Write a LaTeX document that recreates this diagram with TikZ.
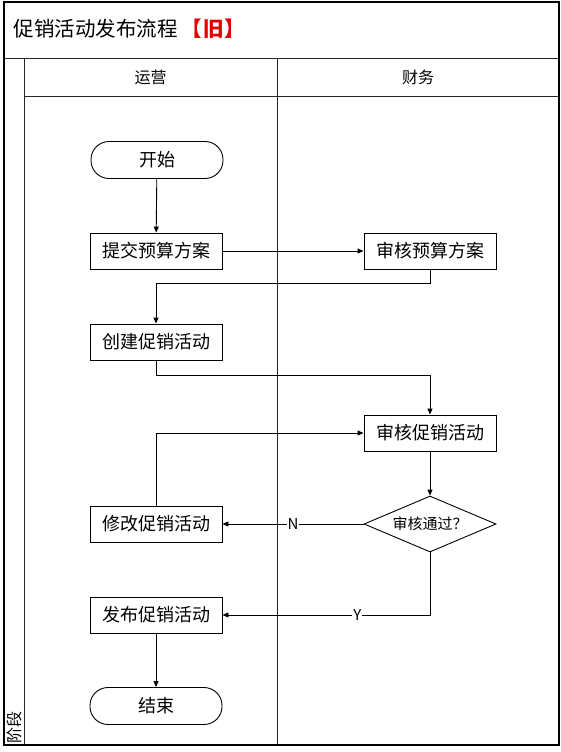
\documentclass[tikz,border=0pt]{standalone}
\usepackage{xcolor}
\usepackage{fontspec}
\setmainfont{Noto Sans CJK SC}
\usepackage{tikz}
\usetikzlibrary{shapes}
\usetikzlibrary{shapes.geometric}
\usetikzlibrary{arrows.meta}
\definecolor{oldred}{RGB}{226,0,0}
\newcommand{\titlefont}{\fontsize{20.5pt}{24pt}\selectfont}
\newcommand{\boxfont}{\fontsize{18pt}{21pt}\selectfont}
\newcommand{\headfont}{\fontsize{16pt}{19pt}\selectfont}
\newcommand{\labfont}{\fontsize{15pt}{18pt}\selectfont}
\tikzstyle{process}=[draw,line width=0.9pt,minimum width=132pt,minimum height=36pt,inner sep=0pt,font=\boxfont]
\tikzstyle{terminal}=[process,rounded corners=18pt,minimum height=37pt]
\tikzstyle{decision}=[draw,line width=0.9pt,diamond,aspect=2.36,minimum width=132pt,minimum height=56pt,inner sep=0pt,font=\labfont]
\tikzstyle{flow}=[line width=0.9pt,-{Triangle[length=6pt,width=5pt]}]
\tikzstyle{frame}=[line width=0.9pt,black!85]

\begin{document}
\begin{tikzpicture}[x=1pt,y=-1pt]
      \useasboundingbox (0,0) rectangle (561,752);
      \draw[frame] (4,58) -- (559,58);
      \draw[frame] (24,58) -- (24,745);
      \draw[frame] (24,96) -- (559,96);
      \draw[frame] (277,58) -- (277,745);
      \draw[line width=1.5pt] (4,2) rectangle (559,745);
      \node[anchor=west] (title) at (10,29) {\titlefont 促销活动发布流程\hspace{4pt}\textcolor{oldred}{\bfseries 【\hspace{1pt}旧\hspace{1pt}】}};
      \node[font=\headfont] (laneops) at (150.5,77) {运营};
      \node[font=\headfont] (lanefin) at (418,77) {财务};
      \node[font=\headfont,rotate=90,inner sep=0pt] (stage) at (14,727) {阶段};

      \node[terminal] (start) at (157,160) {开始};
      \node[process] (submit) at (156,251) {提交预算方案};
      \node[process] (auditbudget) at (430,251) {审核预算方案};
      \node[process] (create) at (156,342) {创建促销活动};
      \node[process] (auditpromo) at (430,433) {审核促销活动};
      \node[decision] (pass) at (430,524) {审核通过？};
      \node[process] (modify) at (156,524) {修改促销活动};
      \node[process] (publish) at (156,615) {发布促销活动};
      \node[terminal] (end) at (156,706) {结束};

      \draw[flow] (start) -- (submit);
      \draw[flow] (submit) -- (auditbudget);
      \draw[flow] (auditbudget.south) -- ++(0,14) -| (create.north);
      \draw[flow] (create.south) -- ++(0,15) -| (auditpromo.north);
      \draw[flow] (auditpromo) -- (pass);
      \draw[flow] (pass.west) -- node[fill=white,inner sep=1pt,font=\labfont] (no) {N} (modify.east);
      \draw[flow] (modify.north) |- (auditpromo.west);
      \draw[flow] (pass.south) |- node[pos=0.675,fill=white,inner sep=1pt,font=\labfont] (yes) {Y} (publish.east);
      \draw[flow] (publish) -- (end);
    \end{tikzpicture}
\end{document}
